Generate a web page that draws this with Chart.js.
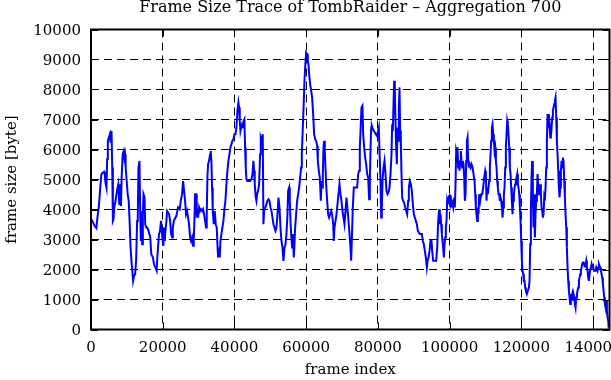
<!DOCTYPE html>
<html>
<head>
<meta charset="utf-8">
<script src="https://cdn.jsdelivr.net/npm/chart.js@4/dist/chart.umd.min.js"></script>
<style>
  body { margin: 0; background: #fff; }
  canvas { display: block; }
</style>
</head>
<body>
<canvas id="trace" width="611" height="380"></canvas>
<script>
// values (frame index -> aggregated frame size)
const frameIndex = [
  0,563,1033,1502,1784,2160,2441,2723,2911,3380,
  3662,3850,4038,4319,4507,4695,4977,5258,5446,5728,
  5916,6104,6291,6479,6855,7230,7606,7888,8075,8357,
  8545,8827,9108,9296,9484,9672,9953,10235,10517,10799,
  10986,11268,11456,11738,12019,12301,12583,12864,13052,13240,
  13522,13709,13897,14085,14273,14461,14648,14930,15118,15400,
  15681,16057,16526,16808,17278,17559,17935,18311,18498,18686,
  18968,19250,19531,19813,20001,20189,20376,20564,20752,21034,
  21221,21503,21785,22067,22348,22630,22818,23099,
  23815,24280,24745,25024,25396,25675,25954,26233,26512,26791,
  27070,27349,27628,27907,28186,28465,28651,28837,29023,29302,
  29488,29674,29860,30139,30418,30697,30976,31255,31534,31813,
  32092,32278,32464,32650,32929,33208,33394,33580,33766,33952,
  34231,34510,34789,35068,35254,35440,35719,35905,36091,36370,
  36649,36928,37207,37486,37765,38044,38323,38602,38881,39160,
  39439,39718,39997,40276,40555,40834,41113,41299,41485,41671,
  41857,42136,42415,42601,42787,42973,43159,43345,43624,43996,
  44368,44740,45019,45298,45484,45670,45949,46135,46321,46600,
  46879,47158,47344,47623,47902,48088,48274,
  48374,48653,48932,49211,49490,49769,50048,50327,50606,50885,
  51164,51443,51722,52001,52280,52559,52838,53117,53396,53675,
  53954,54233,54512,54791,54977,55256,55442,55628,55814,56093,
  56279,56558,56744,56930,57209,57488,57767,58046,58325,58604,
  58790,59069,59348,59534,59720,59999,60278,60464,60650,60836,
  61115,61394,61673,61952,62231,62510,62789,63068,63254,63533,
  63812,64091,64277,64463,64649,64835,65021,65207,65393,65579,
  65858,66137,66416,66695,66974,67253,67532,67718,67904,68183,
  68462,68741,69020,69299,69578,69857,70136,70415,70694,70973,
  71252,71531,71810,72089,72368,72554,
  73016,73295,73760,74225,74504,74783,74969,75248,75434,75713,
  75899,76178,76457,76736,77015,77294,77573,77759,77945,78131,
  78317,78596,78875,79154,79433,79712,79991,80270,80456,80735,
  80921,81107,81293,81572,81851,82130,82409,82688,82967,83246,
  83525,83804,83990,84176,84362,84548,84734,84920,85106,85292,
  85478,85664,85850,86036,86222,86408,86594,86780,87059,87338,
  87617,87896,88175,88454,88640,88919,89198,89477,89756,90035,
  90314,90593,90872,91151,91430,91709,91988,92267,92546,92825,
  93104,93383,93662,93848,94127,94406,94685,94964,95150,95429,
  95708,95987,96266,96545,96824,
  97100,97286,97472,97658,97844,98030,98216,98402,98588,98774,
  98960,99146,99332,99518,99704,99890,100076,100262,100448,100634,
  100820,101006,101285,101471,101657,101843,102029,102215,102401,102587,
  102773,102959,103145,103331,103517,103703,103889,104075,104261,104447,
  104633,104819,105005,105191,105377,105563,105842,106121,106400,106679,
  106958,107144,107330,107516,107702,107888,108074,108260,108539,108818,
  109097,109376,109655,109934,110120,110306,110492,110678,110864,111050,
  111236,111422,111608,111794,111980,112166,112352,112538,112724,112910,
  113096,113282,113468,113654,113840,114026,114212,114398,114584,114770,
  114956,115142,115328,115514,115700,115886,116072,116258,116444,116630,
  116816,117002,117188,117374,117560,117746,117932,118118,118304,118490,
  118676,118862,119048,119234,119420,119606,119792,119978,120164,120350,
  120536,120722,120908,121094,
  121277,121556,121835,122114,122300,122486,122672,122858,123044,123230,
  123416,123602,123788,123974,124160,124346,124532,124718,124904,125090,
  125276,125462,125648,125834,126020,126206,126392,126578,126764,126950,
  127136,127322,127508,127694,127880,128066,128252,128438,128624,128810,
  128996,129182,129368,129554,129740,129926,130112,130298,130484,130670,
  130856,131042,131228,131414,131600,131786,131972,132158,132344,132530,
  132716,132902,133088,133274,133460,133646,133832,134018,134204,134390,
  134576,134762,134948,135134,135320,135506,135692,135878,136064,136250,
  136436,136622,136808,136994,137180,137366,137552,137738,137924,138110,
  138296,138482,138668,138854,139040,139226,139412,139598,139784,139970,
  140156,140342,140528,140714,140900,141086,141272,141458,141644,141830,
  142016,142202,142388,142574,142760,142946,143132,143318,143504,143690,
  143876,144062,144248,144341
];

const frameSize = [
  3700,3570,3450,3380,3730,4070,4500,4950,5180,5230,
  5260,5180,4900,4730,5680,6290,6400,6510,6230,6620,
  5400,3620,3680,4070,4290,4620,4840,4180,4840,4120,
  5070,5840,5950,5730,5840,5400,4950,4510,4290,3510,
  2840,2290,2070,1620,1790,1840,2290,3620,3840,5400,
  5620,3950,2950,3840,2840,3840,4510,4400,3510,3400,
  3400,3290,3070,2510,2400,2180,2070,1960,2400,2730,
  3180,3290,3620,3180,2950,2790,3400,2950,3290,3620,
  3950,3900,3840,3620,3180,3070,3400,3620,
  3790,4070,4010,4290,4510,4950,4620,4290,3840,3950,
  3730,3510,3070,2950,3070,2790,2950,3620,4510,4510,
  3730,4010,3730,4070,3950,4010,3950,4010,3840,3620,
  3400,3840,5070,5510,5620,5840,5950,5620,4730,3950,
  3510,3950,3510,3400,2840,2400,2730,2400,2950,3180,
  3400,3620,4010,4290,4840,5290,5620,5840,6070,6180,
  6290,6340,6510,6510,6730,7290,7570,7400,6960,6620,
  6730,6840,6730,6960,7010,6070,5400,5010,4950,4950,
  4950,5010,5180,5620,5290,4840,4400,4290,4510,4620,
  4840,5840,6400,6290,6510,3510,3950,
  3950,4070,4180,4290,4340,4290,4070,3950,3730,3510,
  3400,3290,3400,3840,4400,4070,3400,2950,2730,2290,
  2730,2840,3180,3840,4620,4730,4290,3620,3180,2730,
  3180,2400,2840,3400,3840,4290,4510,4730,5070,5400,
  5840,6730,7620,8290,8730,9230,9180,8950,8840,8510,
  8180,7960,7730,7180,6510,6340,6290,6120,5620,5290,
  5070,4290,4950,4730,5180,6070,6290,5950,5400,4840,
  4290,3840,3730,3840,3950,3840,3510,2950,3400,3620,
  3840,4180,4510,4840,4510,4290,3950,3730,3510,3950,
  4400,4010,3620,3180,2730,2290,
  4070,4730,4730,4730,5180,5290,6070,6840,7400,7460,
  6510,6070,5730,5510,5180,5070,4340,4950,5950,6730,
  6790,6680,6620,6570,6510,6460,6570,6730,5950,4950,
  3730,4070,4950,5400,5620,5180,4620,4510,4570,4730,
  5180,5840,6840,6620,7510,8290,7960,6960,6070,5510,
  6730,6290,7400,8070,6620,6230,5180,4400,4290,4230,
  4070,3950,3840,4290,4730,4950,4840,4620,4180,3840,
  3730,3620,3510,3290,3230,3180,3180,3180,2950,2840,
  2620,2400,2070,2290,2400,2620,2950,2950,2620,2290,
  2290,2290,2290,2730,3620,
  4010,3510,3840,3510,3180,2950,2730,2400,2840,3070,
  3400,3620,4290,4180,4400,4450,4510,4180,4290,4070,
  4180,4070,4400,4070,4840,5950,5840,6070,5400,5620,
  5290,5620,5950,5620,5400,5620,5510,5070,4290,4510,
  5620,6290,6400,5620,5400,5510,5400,5510,5400,5180,
  4950,4510,4070,3840,3620,4070,3840,4510,4290,4510,
  4510,4730,5070,5290,5180,4290,4730,4510,4730,4950,
  5400,5840,6290,6730,6840,6510,6290,5950,6070,5620,
  5400,4950,4730,4510,4510,4290,4400,4290,4070,3730,
  4070,4510,4730,5400,6070,6510,6960,6840,6510,6070,
  5400,5180,4730,4290,3840,4290,4510,4730,4840,4950,
  5070,5180,4840,4730,4510,4070,3620,2950,2290,1960,
  1840,1620,1620,1400,
  1290,1180,1290,1400,1620,2840,3950,5070,5620,4290,
  3400,4510,3070,3840,4290,4510,5180,4840,4510,4510,
  4840,4510,4070,3950,3730,3840,4400,4290,4730,5400,
  6290,7180,6730,7180,6840,6400,6840,6730,7070,7290,
  7400,7510,7620,7730,7070,6290,5840,5290,4730,4400,
  4730,5290,5620,5400,5730,5620,4950,4400,3840,3400,
  2730,2070,1620,1290,1070,850,1180,1070,1180,960,
  1180,1070,850,730,1070,1180,1290,1400,1620,1730,
  1840,1960,2070,2180,2230,2230,2180,2070,2180,2290,
  2070,1960,1730,1620,1840,2010,2070,2180,2070,2180,
  2010,1960,1960,1960,2070,2010,1960,2070,2180,2120,
  2070,1960,1840,1730,1510,1290,1070,850,730,960,
  620,400,290,70
];

const xTicks = [0, 20000, 40000, 60000, 80000, 100000, 120000, 140000];
const yTicks = [0, 1000, 2000, 3000, 4000, 5000, 6000, 7000, 8000, 9000, 10000];

const chartTitle = 'Frame Size Trace of TombRaider \u2013 Aggregation 700';
const xTitle = 'frame index';
const yTitle = 'frame size [byte]';

const serif = 'DejaVu Serif';

// gnuplot style box: solid border plus short inward ticks on all four sides
const gnuFrame = {
  id: 'gnuFrame',
  afterLayout(chart) {
    // centre the title over the plot box, not the whole canvas
    const t = chart.titleBlock;
    if (t) {
      t.left = chart.chartArea.left;
      t.right = chart.chartArea.right;
    }
  },
  afterDatasetsDraw(chart) {
    const {ctx, chartArea: a, scales: {x, y}} = chart;
    ctx.save();
    ctx.strokeStyle = '#000';
    ctx.lineWidth = 1;
    ctx.beginPath();
    x.ticks.forEach(t => {
      const px = Math.round(x.getPixelForValue(t.value)) + 0.5;
      ctx.moveTo(px, a.bottom); ctx.lineTo(px, a.bottom - 7);
      ctx.moveTo(px, a.top); ctx.lineTo(px, a.top + 7);
    });
    y.ticks.forEach(t => {
      const py = Math.round(y.getPixelForValue(t.value)) + 0.5;
      ctx.moveTo(a.left, py); ctx.lineTo(a.left + 7, py);
      ctx.moveTo(a.right, py); ctx.lineTo(a.right - 7, py);
    });
    ctx.stroke();
    ctx.lineWidth = 2;
    ctx.strokeRect(a.left, a.top, a.right - a.left, a.bottom - a.top);
    ctx.restore();
  }
};

Chart.defaults.color = '#000';
Chart.defaults.font.family = serif;
Chart.defaults.font.size = 15;

const points = frameIndex.map((f, i) => ({x: f, y: frameSize[i]}));

new Chart(document.getElementById('trace'), {
  type: 'line',
  data: {
    datasets: [{
      data: points,
      borderColor: 'rgb(0,0,255)',
      borderWidth: 2,
      pointRadius: 0,
      fill: false,
      tension: 0
    }]
  },
  options: {
    responsive: false,
    animation: false,
    layout: { padding: { left: 0, right: 1.5, top: 0, bottom: 0 } },
    plugins: {
      legend: { display: false },
      tooltip: { enabled: false },
      title: {
        display: true,
        text: chartTitle,
        color: '#000',
        font: { family: serif, size: 16, weight: 'normal', lineHeight: 1 },
        padding: { top: 0, bottom: 13.5 }
      }
    },
    scales: {
      x: {
        type: 'linear',
        min: 0,
        max: 144600,
        afterBuildTicks: s => { s.ticks = xTicks.map(v => ({value: v})); },
        afterFit: s => { s.height = 50.5; s.paddingLeft = 0; s.paddingRight = 0; },
        ticks: {
          padding: 10,
          maxRotation: 0,
          autoSkip: false,
          callback: v => String(v),
          font: { family: serif, size: 15 }
        },
        grid: { color: '#000', lineWidth: 1, drawTicks: false },
        border: { display: false, dash: [8, 5] },
        title: {
          display: true,
          text: xTitle,
          font: { family: serif, size: 15 },
          padding: { top: 0, bottom: 1 }
        }
      },
      y: {
        min: 0,
        max: 10000,
        afterBuildTicks: s => { s.ticks = yTicks.map(v => ({value: v})); },
        afterFit: s => { s.width = 91; s.paddingTop = 0; s.paddingBottom = 0; },
        ticks: {
          padding: 10,
          labelOffset: 2,
          callback: v => String(v),
          font: { family: serif, size: 15 }
        },
        grid: { color: '#000', lineWidth: 1, drawTicks: false },
        border: { display: false, dash: [8, 5] },
        title: {
          display: true,
          text: yTitle,
          font: { family: serif, size: 15 },
          padding: { top: 3, bottom: 0 }
        }
      }
    }
  },
  plugins: [gnuFrame]
});
</script>
</body>
</html>
